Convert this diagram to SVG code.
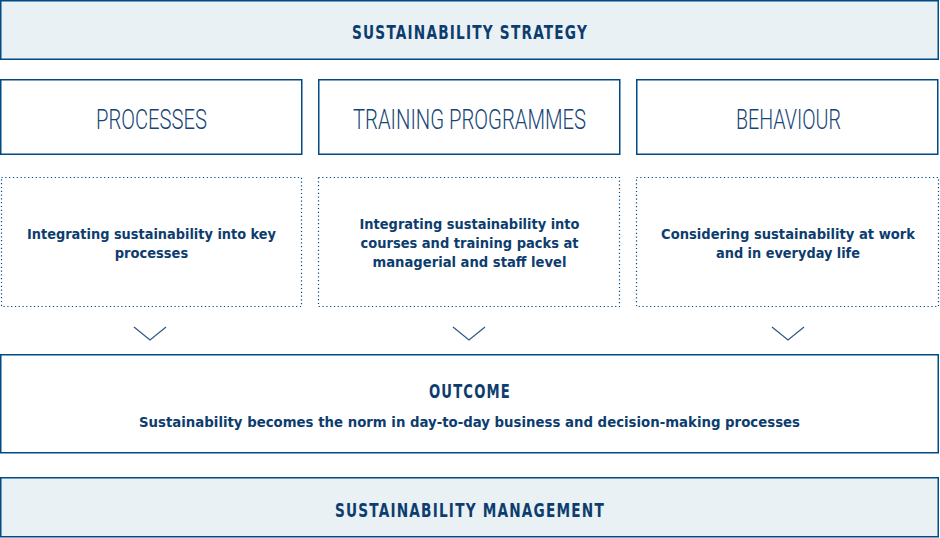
<svg xmlns="http://www.w3.org/2000/svg" width="940" height="538" viewBox="0 0 940 538">
<style>
.band{fill:#e9f1f5;stroke:#004b85;stroke-width:1.5}
.box{fill:#fff;stroke:#004b85;stroke-width:1.5}
.dot{fill:none;stroke:#004b85;stroke-width:1.2;stroke-dasharray:1.2 2.6}
.t{font-family:"DejaVu Sans Condensed","DejaVu Sans",sans-serif;fill:#0d3d6e;text-anchor:middle}
.hb{font-size:19px;font-weight:bold;letter-spacing:1.5px}
.hl{font-size:28.5px;font-weight:300;font-family:"Roboto","DejaVu Sans",sans-serif;fill:#174676}
.b{font-size:14.5px;font-weight:bold}
.chev{fill:none;stroke:#2f5785;stroke-width:1.2}
</style>
<g id="strategy">
<rect class="band" x="0.75" y="0.75" width="937.5" height="58.5"/>
<text class="t hb" x="470" y="39" textLength="236" lengthAdjust="spacingAndGlyphs">SUSTAINABILITY STRATEGY</text>
</g>
<g id="processes">
<rect class="box" x="0.75" y="79.75" width="301" height="74.5"/>
<text class="t hl" x="151.5" y="128.5" textLength="111" lengthAdjust="spacingAndGlyphs">PROCESSES</text>
</g>
<g id="training">
<rect class="box" x="318.75" y="79.75" width="301" height="74.5"/>
<text class="t hl" x="469.5" y="128.5" textLength="233" lengthAdjust="spacingAndGlyphs">TRAINING PROGRAMMES</text>
</g>
<g id="behaviour">
<rect class="box" x="636.75" y="79.75" width="301" height="74.5"/>
<text class="t hl" x="788.5" y="128.5" textLength="105" lengthAdjust="spacingAndGlyphs">BEHAVIOUR</text>
</g>
<g id="processes-desc">
<rect class="dot" x="1.5" y="177.5" width="300" height="129"/>
<text class="t b" x="151.5" y="239" textLength="249" lengthAdjust="spacingAndGlyphs">Integrating sustainability into key</text>
<text class="t b" x="151.5" y="258">processes</text>
</g>
<g id="training-desc">
<rect class="dot" x="318.5" y="177.5" width="301" height="129"/>
<text class="t b" x="469.5" y="229" textLength="220" lengthAdjust="spacingAndGlyphs">Integrating sustainability into</text>
<text class="t b" x="469.5" y="248" textLength="218" lengthAdjust="spacingAndGlyphs">courses and training packs at</text>
<text class="t b" x="469.5" y="267" textLength="194" lengthAdjust="spacingAndGlyphs">managerial and staff level</text>
</g>
<g id="behaviour-desc">
<rect class="dot" x="636.5" y="177.5" width="302" height="129"/>
<text class="t b" x="788" y="239" textLength="254" lengthAdjust="spacingAndGlyphs">Considering sustainability at work</text>
<text class="t b" x="788" y="258" textLength="144" lengthAdjust="spacingAndGlyphs">and in everyday life</text>
</g>
<g id="connectors">
<polyline class="chev" points="134,327 150,340 166,327"/>
<polyline class="chev" points="453,327 469,340 485,327"/>
<polyline class="chev" points="772,327 788,340 804,327"/>
</g>
<g id="outcome">
<rect class="box" x="0.75" y="354.75" width="937.5" height="98"/>
<text class="t hb" x="470" y="398" textLength="82" lengthAdjust="spacingAndGlyphs">OUTCOME</text>
<text class="t b" x="469.5" y="427" textLength="661" lengthAdjust="spacingAndGlyphs">Sustainability becomes the norm in day-to-day business and decision-making processes</text>
</g>
<g id="management">
<rect class="band" x="0.75" y="477.75" width="937.5" height="59"/>
<text class="t hb" x="470" y="517" textLength="270" lengthAdjust="spacingAndGlyphs">SUSTAINABILITY MANAGEMENT</text>
</g>
</svg>
